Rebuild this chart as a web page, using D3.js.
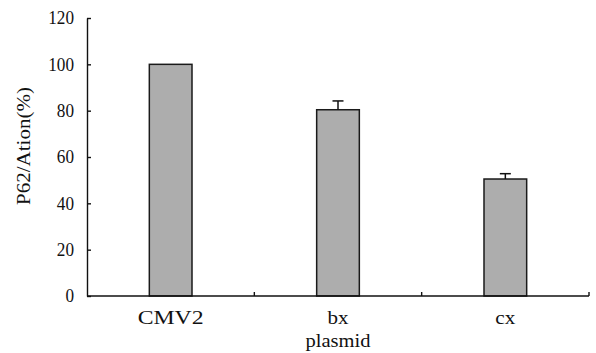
<!DOCTYPE html>
<html>
<head>
<meta charset="utf-8">
<script src="https://cdn.jsdelivr.net/npm/d3@7"></script>
<style>
  body { margin: 0; background: #fff; }
  text { font-family: "Liberation Serif", "Times New Roman", serif; fill: #111; }
</style>
</head>
<body>
<div id="chart"></div>
<script>
// Data
const categories = ['CMV2', 'bx', 'cx'];
const values = [100, 80.4, 50.5];
const errors = [0, 3.8, 2.3];
const yTicks = [0, 20, 40, 60, 80, 100, 120];

// Dimensions
const width = 596, height = 353;
const margin = { top: 18, right: 7, bottom: 57, left: 87 };
const ctrWidth = width - margin.left - margin.right;
const ctrHeight = height - margin.top - margin.bottom;

const svg = d3.select('#chart')
  .append('svg')
  .attr('width', width)
  .attr('height', height);

const ctr = svg.append('g')
  .attr('transform', `translate(${margin.left}, ${margin.top})`);

// Scales
const xScale = d3.scaleBand()
  .domain(categories)
  .range([0, ctrWidth])
  .padding(0);

const yScale = d3.scaleLinear()
  .domain([0, 120])
  .range([ctrHeight, 0]);

const barWidth = xScale.bandwidth() * 0.255;

// Bars
const rows = categories.map((c, i) => ({ name: c, value: values[i], err: errors[i] }));

ctr.selectAll('rect.bar')
  .data(rows)
  .join('rect')
  .attr('class', 'bar')
  .attr('x', d => xScale(d.name) + xScale.bandwidth() / 2 - barWidth / 2)
  .attr('y', d => yScale(d.value))
  .attr('width', barWidth)
  .attr('height', d => ctrHeight - yScale(d.value))
  .attr('fill', '#adadad')
  .attr('stroke', '#1a1a1a')
  .attr('stroke-width', 1.5);

// Error bars (upper only)
const errGroup = ctr.append('g')
  .attr('stroke', '#111')
  .attr('stroke-width', 1.5);

const withErr = rows.filter(d => d.err > 0);
errGroup.selectAll('line.stem')
  .data(withErr)
  .join('line')
  .attr('x1', d => xScale(d.name) + xScale.bandwidth() / 2)
  .attr('x2', d => xScale(d.name) + xScale.bandwidth() / 2)
  .attr('y1', d => yScale(d.value))
  .attr('y2', d => yScale(d.value + d.err));

errGroup.selectAll('line.cap')
  .data(withErr)
  .join('line')
  .attr('x1', d => xScale(d.name) + xScale.bandwidth() / 2 - 5.5)
  .attr('x2', d => xScale(d.name) + xScale.bandwidth() / 2 + 5.5)
  .attr('y1', d => yScale(d.value + d.err))
  .attr('y2', d => yScale(d.value + d.err));

// Axes
const yAxis = d3.axisLeft(yScale)
  .tickValues(yTicks)
  .tickSizeInner(-4)
  .tickSizeOuter(0)
  .tickPadding(13);

const yAxisGroup = ctr.append('g').call(yAxis)
  .attr('font-size', 18)
  .attr('font-family', '"Liberation Serif", serif');
yAxisGroup.selectAll('text')
  .attr('fill', '#111')
  .attr('textLength', d => String(d).length * 8.6)
  .attr('lengthAdjust', 'spacingAndGlyphs');
yAxisGroup.selectAll('line, path')
  .attr('stroke', '#111')
  .attr('stroke-width', 1.4);

// x axis: ticks at category boundaries
const xBounds = categories.map(c => xScale(c)).concat([ctrWidth]);
const labelWidths = { CMV2: 66, bx: 21, cx: 20 };
const xAxisGroup = ctr.append('g')
  .attr('transform', `translate(0, ${ctrHeight})`);
xAxisGroup.append('line')
  .attr('x1', 0).attr('x2', ctrWidth)
  .attr('stroke', '#111').attr('stroke-width', 1.4);
xAxisGroup.selectAll('line.tick')
  .data(xBounds.slice(1))
  .join('line')
  .attr('class', 'tick')
  .attr('x1', d => d).attr('x2', d => d)
  .attr('y1', 0).attr('y2', -4)
  .attr('stroke', '#111').attr('stroke-width', 1.4);
xAxisGroup.selectAll('text')
  .data(categories)
  .join('text')
  .attr('x', d => xScale(d) + xScale.bandwidth() / 2)
  .attr('y', 28)
  .attr('text-anchor', 'middle')
  .attr('textLength', d => labelWidths[d])
  .attr('lengthAdjust', 'spacingAndGlyphs')
  .style('font-size', '19px')
  .text(d => d);

// Axis titles
svg.append('text')
  .attr('x', margin.left + ctrWidth / 2)
  .attr('y', 347)
  .attr('text-anchor', 'middle')
  .attr('textLength', 65)
  .attr('lengthAdjust', 'spacingAndGlyphs')
  .style('font-size', '19px')
  .text('plasmid');

svg.append('text')
  .attr('transform', 'translate(30, 146) rotate(-90)')
  .attr('text-anchor', 'middle')
  .attr('textLength', 118)
  .attr('lengthAdjust', 'spacingAndGlyphs')
  .style('font-size', '19px')
  .text('P62/Ation(%)');
</script>
</body>
</html>
